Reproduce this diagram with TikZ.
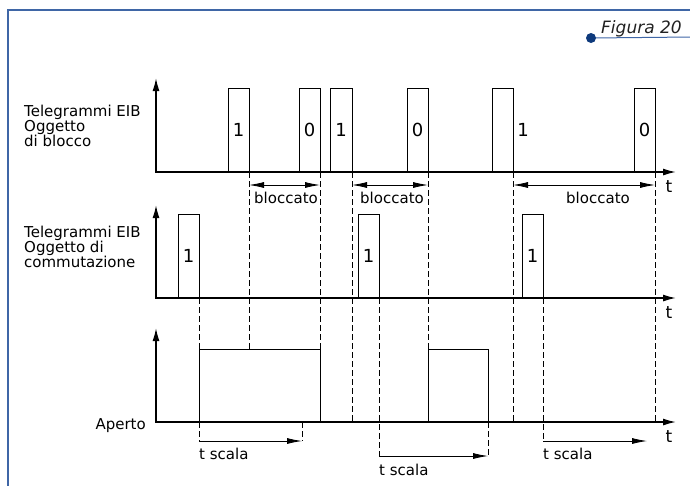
\documentclass[tikz,border=0pt]{standalone}
\usepackage{fontspec}
\setmainfont{DejaVu Sans}
\usetikzlibrary{arrows.meta}
\definecolor{framecol}{HTML}{3F66A6}
\definecolor{dotcol}{HTML}{0E3A7C}
\definecolor{figtext}{HTML}{222222}
\begin{document}
\begin{tikzpicture}[x=1pt,y=-1pt,
  axis/.style={line width=1.5pt,{Latex[length=13pt,width=7pt]}-{Latex[length=13pt,width=7pt]}},
  pulse/.style={draw,line width=0.8pt,inner sep=0pt,outer sep=0pt,anchor=south west,
    minimum width=21pt,font=\fontsize{18}{18}\selectfont},
  guide/.style={line width=0.8pt,dash pattern=on 5.5pt off 3.5pt},
  span/.style={line width=0.8pt,{Latex[length=15pt,width=6pt]}-{Latex[length=15pt,width=6pt]}},
  fwd/.style={line width=0.8pt,-{Latex[length=15pt,width=6pt]}},
  lbl/.style={font=\fontsize{15}{15}\selectfont,inner sep=0pt,align=left,anchor=west},
  txt/.style={font=\fontsize{15}{15}\selectfont,inner sep=0pt},
  tlab/.style={font=\fontsize{17}{17}\selectfont,inner sep=0pt,anchor=base}]
\useasboundingbox (0,0) rectangle (690,485);
% frame
\draw[framecol,line width=2pt] (8,490) -- (8,10) -- (695,10);
% figure caption
\coordinate (dot) at (591,38);
\coordinate (capend) at (692,37);
\draw[framecol,line width=1pt] (dot) -- (capend);
\fill[dotcol] (dot) circle (5);
\node[anchor=base west,inner sep=0pt,text=figtext,font=\fontsize{17}{17}\selectfont\itshape] (fig) at (601,33) {Figura 20};

% axes
\coordinate (o1) at (156,172); \coordinate (y1) at (156,78);  \coordinate (x1) at (676,172);
\coordinate (o2) at (156,298); \coordinate (y2) at (156,205); \coordinate (x2) at (676,298);
\coordinate (o3) at (156,422); \coordinate (y3) at (156,328); \coordinate (x3) at (676,422);
\draw[axis] (y1) -- (o1) -- (x1);
\draw[axis] (y2) -- (o2) -- (x2);
\draw[axis] (y3) -- (o3) -- (x3);
\node[tlab] (t1) at (669,192) {t};
\node[tlab] (t2) at (669,318) {t};
\node[tlab] (t3) at (669,442) {t};

% labels
\node[lbl] (lab1) at (24,126) {Telegrammi EIB\\Oggetto\\di blocco};
\node[lbl] (lab2) at (24,247) {Telegrammi EIB\\Oggetto di\\commutazione};
\node[txt,anchor=base east] (lab3) at (146,429) {Aperto};

% pulses: blocking object
\node[pulse,minimum height=84pt] (p11) at (228,172) {1};
\node[pulse,minimum height=84pt] (p12) at (299,172) {0};
\node[pulse,minimum height=84pt,minimum width=22pt] (p13) at (330,172) {1};
\node[pulse,minimum height=84pt] (p14) at (407,172) {0};
\node[pulse,minimum height=84pt] (p15) at (492,172) {};
\node[inner sep=0pt,font=\fontsize{18}{18}\selectfont] (one15) at (523,130) {1};
\node[pulse,minimum height=84pt] (p16) at (634,172) {0};

% pulses: switching object
\node[pulse,minimum height=84pt] (p21) at (178,298) {1};
\node[pulse,minimum height=84pt] (p22) at (358,298) {1};
\node[pulse,minimum height=84pt] (p23) at (522,298) {1};

% output
\node[pulse,minimum height=73pt,minimum width=121pt] (r1) at (199,422) {};
\node[pulse,minimum height=73pt,minimum width=60pt] (r2) at (428,422) {};

% guide coordinates
\coordinate (g249a) at (249,172); \coordinate (g249b) at (249,349);
\coordinate (g320a) at (320,172); \coordinate (g320b) at (320,349);
\coordinate (g352a) at (352,172); \coordinate (g352b) at (352,422);
\coordinate (g428a) at (428,172); \coordinate (g428b) at (428,349);
\coordinate (g513a) at (513,172); \coordinate (g513b) at (513,422);
\coordinate (g655a) at (655,172); \coordinate (g655b) at (655,422);
\coordinate (g199a) at (199,298); \coordinate (g199b) at (199,349);
\coordinate (g199c) at (199,422); \coordinate (g199d) at (199,441);
\coordinate (g379a) at (379,298); \coordinate (g379b) at (379,456);
\coordinate (g543a) at (543,298); \coordinate (g543b) at (543,441);
\coordinate (g302a) at (302,422); \coordinate (g302b) at (302,441);
\coordinate (g488a) at (488,422); \coordinate (g488b) at (488,456);
\coordinate (e647) at (647,441);

\draw[guide] (g249a) -- (g249b);
\draw[guide] (g320a) -- (g320b);
\draw[guide] (g352a) -- (g352b);
\draw[guide] (g428a) -- (g428b);
\draw[guide] (g513a) -- (g513b);
\draw[guide] (g655a) -- (g655b);
\draw[guide] (g199a) -- (g199b);
\draw[guide] (g199c) -- (g199d);
\draw[guide] (g379a) -- (g379b);
\draw[guide] (g543a) -- (g543b);
\draw[guide] (g302a) -- (g302b);
\draw[guide] (g488a) -- (g488b);

% blocked spans
\coordinate (b1a) at (249,185); \coordinate (b1b) at (320,185);
\coordinate (b2a) at (352,185); \coordinate (b2b) at (428,185);
\coordinate (b3a) at (513,185); \coordinate (b3b) at (655,185);
\draw[span] (b1a) -- (b1b);
\draw[span] (b2a) -- (b2b);
\draw[span] (b3a) -- (b3b);
\node[txt,anchor=base] (bl1) at (286,203) {bloccato};
\node[txt,anchor=base] (bl2) at (392,203) {bloccato};
\node[txt,anchor=base] (bl3) at (598,203) {bloccato};

% t scala
\draw[fwd] (g199d) -- (g302b);
\draw[fwd] (g379b) -- (g488b);
\draw[fwd] (g543b) -- (e647);
\node[txt,anchor=base west] (ts1) at (199,459) {t scala};
\node[txt,anchor=base west] (ts2) at (379,475) {t scala};
\node[txt,anchor=base west] (ts3) at (543,459) {t scala};
\end{tikzpicture}
\end{document}
